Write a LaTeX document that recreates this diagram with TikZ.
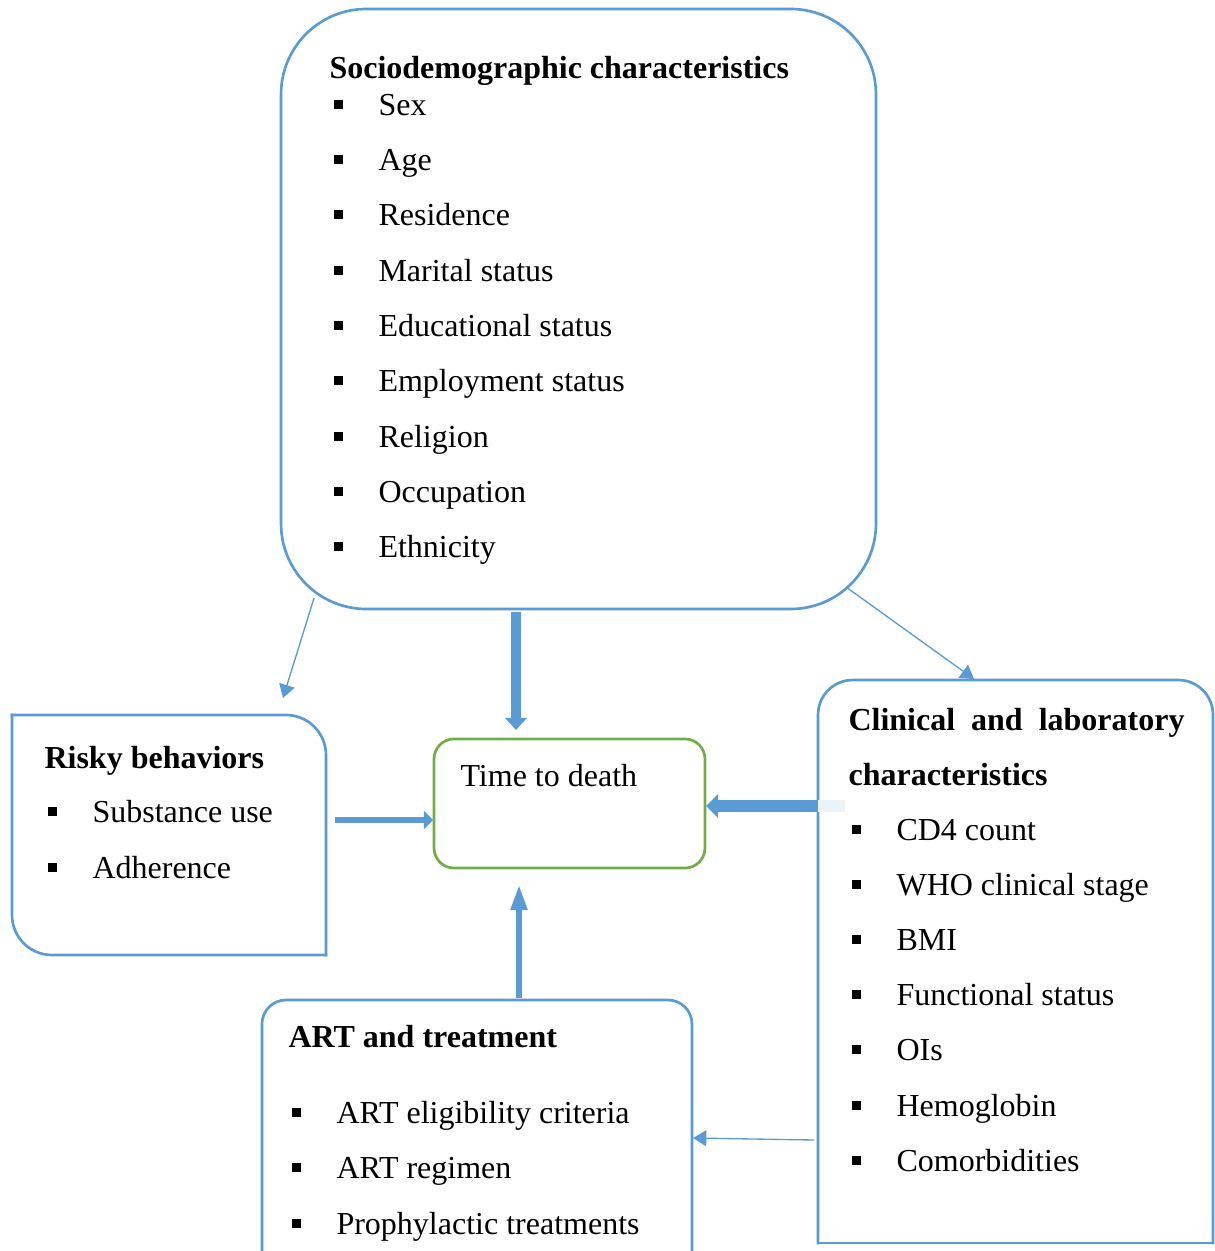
\documentclass[tikz,border=0pt]{standalone}
\usepackage{fontspec}
\setmainfont{Liberation Serif}
\usetikzlibrary{arrows.meta,positioning,calc}
\definecolor{blu}{HTML}{5B9BD5}
\definecolor{grn}{HTML}{70AD47}

\begin{document}
\begin{tikzpicture}[x=.375pt,y=-.375pt,
  box/.style={rectangle,inner sep=0,outer sep=0},
  edge/.style={draw=blu,line width=1pt,line cap=rect},
  txt/.style={anchor=base west,inner sep=0,font=\fontsize{12}{14}\selectfont},
  hd/.style={txt,font=\fontsize{12}{14}\selectfont\bfseries},
  thin/.style={blu,line width=.5pt,-{Triangle[width=6pt,length=5pt]}}]
\useasboundingbox (0,0) rectangle (1215,1251);
\node[box,draw=blu,line width=1pt,rounded corners=32pt,minimum width=223.1pt,minimum height=225pt] (socio) at (578.5,309){};
\node[box,minimum width=117.75pt,minimum height=90pt] (risky) at (169,835){};
\node[box,draw=grn,line width=1pt,rounded corners=7.5pt,minimum width=101.6pt,minimum height=48.4pt] (death) at (569.5,803.5){};
\node[box,minimum width=148.1pt,minimum height=211.1pt] (clin) at (1015.5,961.5){};
\node[box,minimum width=161.25pt,minimum height=98.25pt] (art) at (477,1131){};
\draw[edge,rounded corners=15pt] (risky.north west)--(risky.north east)--(risky.south east);
\draw[edge,rounded corners=15pt] (risky.south east)--(risky.south west)--(risky.north west);
\draw[edge,rounded corners=13pt] (clin.south west)--(clin.north west)--(clin.north east)--(clin.south east);
\draw[edge] (clin.south east)--(clin.south west);
\draw[edge,rounded corners=9pt] (art.south west)--(art.north west)--(art.north east)--(art.south east);
\node[hd] (sochd) at (329,79){Sociodemographic characteristics};
\foreach \lab [count=\i] in {Sex,Age,Residence,Marital status,Educational status,Employment status,Religion,Occupation,Ethnicity}{
  \node[txt] (so\i) at (378,60.25+55.25*\i){\lab};
  \fill ($(so\i.base west)+(-40,-11)$) +(-4.5,-4.5) rectangle +(4.5,4.5);}
\node[hd] (rkhd) at (44,768){Risky behaviors};
\foreach \lab [count=\i] in {Substance use,Adherence}{
  \node[txt] (rk\i) at (92,766+56*\i){\lab};
  \fill ($(rk\i.base west)+(-40,-11)$) +(-4.5,-4.5) rectangle +(4.5,4.5);}
\node[txt] (dthtx) at (460,786){Time to death};
\node[hd] (clhd) at (848,730){\makebox[126pt][s]{Clinical and laboratory}};
\node[hd] (clhd2) at (848,785){characteristics};
\foreach \lab [count=\i] in {CD4 count,WHO clinical stage,BMI,Functional status,OIs,Hemoglobin,Comorbidities}{
  \node[txt] (cl\i) at (896,784.8+55.2*\i){\lab};
  \fill ($(cl\i.base west)+(-40,-11)$) +(-4.5,-4.5) rectangle +(4.5,4.5);}
\node[hd] (arthd) at (288,1047){ART and treatment};
\foreach \lab [count=\i] in {ART eligibility criteria,ART regimen,Prophylactic treatments}{
  \node[txt] (ar\i) at (336,1067.5+55.5*\i){\lab};
  \fill ($(ar\i.base west)+(-40,-11)$) +(-4.5,-4.5) rectangle +(4.5,4.5);}
\draw[blu,line width=3.4pt,-{Triangle[width=8pt,length=4.5pt]}] ($(socio.south)+(-62.5,3)$)--($(socio.south |- death.north)+(-62.5,-9)$);
\draw[thin] ($(socio.south west)+(33,-11)$)--($(risky.north east)+(-43,-17)$);
\draw[thin] ($(socio.south east)+(-30,-22)$)--($(clin.north west)+(156,-1)$);
\draw[blu,line width=2.6pt,-{Triangle[width=6.6pt,length=3.4pt]}] ($(risky.east)+(9,-15)$)--($(death.west)+(-1,16.5)$);
\draw[blu!12,line width=4.5pt] ($(death.east -| clin.west)+(0,2.5)$)--++(27,0);
\draw[blu,line width=4.5pt,-{Triangle[width=8.6pt,length=4.5pt]}] ($(death.east -| clin.west)+(0,2.5)$)--($(death.east)+(1,2.5)$);
\draw[blu,line width=2pt,-{Triangle[width=6pt,length=9.4pt]}] ($(art.north)+(42,-2)$)--($(art.north |- death.south)+(42,17)$);
\draw[thin] ($(clin.west)+(-4,178.5)$)--($(art.east)+(1,7)$);
\end{tikzpicture}
\end{document}
